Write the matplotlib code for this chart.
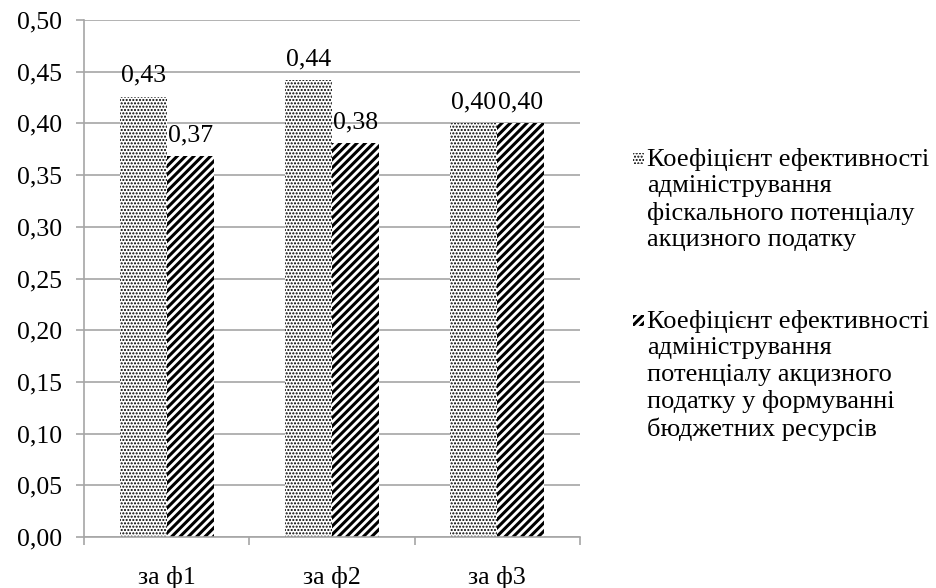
import matplotlib
matplotlib.use("Agg")
import matplotlib.pyplot as plt
from matplotlib.patches import Rectangle
import numpy as np

categories = ["за ф1", "за ф2", "за ф3"]
series1 = [0.426, 0.442, 0.400]
series2 = [0.368, 0.381, 0.400]
series_names = [
    "Коефіцієнт ефективності\nадміністрування\nфіскального потенціалу\nакцизного податку",
    "Коефіцієнт ефективності\nадміністрування\nпотенціалу акцизного\nподатку у формуванні\nбюджетних ресурсів",
]
yticks = [0.0, 0.05, 0.10, 0.15, 0.20, 0.25, 0.30, 0.35, 0.40, 0.45, 0.50]

plt.rcParams['font.family'] = 'Liberation Serif'
FS = 18.5
H1, H2 = '.....', '////'
LW1, LW2 = 1.0, 2.2

W, H = 936, 588
fig = plt.figure(figsize=(W / 100, H / 100), dpi=100)
ax = fig.add_axes([84 / W, 51 / H, (580 - 84) / W, (537 - 20) / H])

x = np.arange(len(categories))
bw = 0.285
with plt.rc_context({'hatch.linewidth': LW1}):
    b1 = ax.bar(x - bw / 2, series1, bw, color='white', edgecolor='black', hatch=H1, linewidth=0)
with plt.rc_context({'hatch.linewidth': LW2}):
    b2 = ax.bar(x + bw / 2, series2, bw, color='white', edgecolor='black', hatch=H2, linewidth=0)

fmt = lambda v: f"{v:.2f}".replace('.', ',')
ax.bar_label(b1, labels=[fmt(v) for v in series1], padding=7, fontsize=FS)
ax.bar_label(b2, labels=[fmt(v) for v in series2], padding=7, fontsize=FS)

ax.set_ylim(0, 0.5)
ax.set_xlim(-0.5, 2.5)
ax.set_yticks(yticks)
ax.set_yticklabels([fmt(v) for v in yticks], fontsize=FS)
ax.yaxis.grid(True, color='#a6a6a6', linewidth=1.2)
ax.set_axisbelow(True)

ax.set_xticks(x)
ax.set_xticklabels(categories, fontsize=FS)
ax.set_xticks([-0.5, 0.5, 1.5, 2.5], minor=True)
ax.tick_params(axis='x', which='major', length=0, pad=21)
ax.tick_params(axis='x', which='minor', length=6, color='#a6a6a6', width=1.2)
ax.tick_params(axis='y', length=6, color='#a6a6a6', width=1.2, pad=10)

for s in ['top', 'right']:
    ax.spines[s].set_visible(False)
for s in ['left', 'bottom']:
    ax.spines[s].set_color('#a6a6a6')
    ax.spines[s].set_linewidth(1.2)

# legend (manual layout to mimic top-aligned markers)
tops = [148, 310]
for hatch, lw, name, top in zip([H1, H2], [LW1, LW2], series_names, tops):
    with plt.rc_context({'hatch.linewidth': lw}):
        r = Rectangle((633 / W, 1 - (top + 16) / H), 11 / W, 11 / H,
                      transform=fig.transFigure, facecolor='white',
                      edgecolor='black', hatch=hatch, linewidth=0)
    fig.patches.append(r)
    fig.text(647 / W, 1 - top / H, name, fontsize=19, va='top', ha='left',
             linespacing=1.25)

fig.savefig("out.png", dpi=100)
